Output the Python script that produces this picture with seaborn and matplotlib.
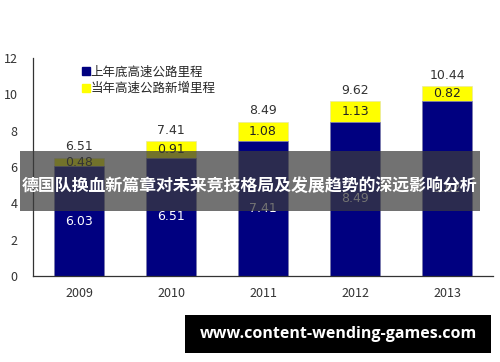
import matplotlib
matplotlib.use("Agg")
import matplotlib.pyplot as plt
import seaborn as sns
import pandas as pd
from matplotlib.patches import Rectangle
from matplotlib.lines import Line2D

years = ["2009", "2010", "2011", "2012", "2013"]
base = [6.03, 6.51, 7.41, 8.49, 9.62]
added = [0.48, 0.91, 1.08, 1.13, 0.82]
totals = [6.51, 7.41, 8.49, 9.62, 10.44]
legend_labels = ["上年底高速公路里程", "当年高速公路新增里程"]
yticks = [0, 2, 4, 6, 8, 10, 12]
banner_text = "德国队换血新篇章对未来竞技格局及发展趋势的深远影响分析"
url_text = "www.content-wending-games.com"

sns.set_theme(style="white")
plt.rcParams['font.family'] = ['Noto Sans CJK SC', 'DejaVu Sans']

df = pd.DataFrame({"year": years, "base": base, "added": added, "total": totals})

fig = plt.figure(figsize=(5, 3.62), dpi=100)
ax = fig.add_axes([0.066, 0.2376, 0.92, 0.6024])

navy = "#000080"
yellow = "#FFFF00"
sns.barplot(data=df, x="year", y="total", color=yellow, width=0.54, ax=ax,
            saturation=1, edgecolor="#E8E8A0", linewidth=0.5)
sns.barplot(data=df, x="year", y="base", color=navy, width=0.54, ax=ax,
            saturation=1, edgecolor="#8080C0", linewidth=0.5)

ax.set_xlim(-0.5, 4.5)
ax.set_ylim(0, 12)
ax.set_yticks(yticks)
ax.set_xlabel("")
ax.set_ylabel("")
for s in ["top", "right"]:
    ax.spines[s].set_visible(False)
for s in ["left", "bottom"]:
    ax.spines[s].set_color("#333333")
    ax.spines[s].set_linewidth(0.9)
ax.tick_params(axis="y", labelsize=9, colors="#333333", length=3, direction="in", pad=11)
ax.tick_params(axis="x", labelsize=9, colors="#333333", length=0, pad=8)
ax.set_xticks([0.5, 1.5, 2.5, 3.5], minor=True)
ax.tick_params(axis="x", which="minor", length=3, direction="in", color="#333333")

for i in range(len(years)):
    ax.text(i, totals[i] + 0.25, f"{totals[i]:.2f}", ha="center", va="bottom",
            fontsize=9, color="#333333", family="DejaVu Sans")
    ax.text(i, base[i] + added[i] / 2, f"{added[i]:.2f}", ha="center", va="center",
            fontsize=9, color="#222222", family="DejaVu Sans")
    ax.text(i, base[i] / 2, f"{base[i]:.2f}", ha="center", va="center",
            fontsize=9, color="white", family="DejaVu Sans")

handles = [Line2D([], [], marker="s", color="none", markerfacecolor=navy, markeredgecolor=navy, markersize=6),
           Line2D([], [], marker="s", color="none", markerfacecolor=yellow, markeredgecolor=yellow, markersize=6)]
ax.legend(handles, legend_labels, loc="upper left", bbox_to_anchor=(0.09, 1.0), frameon=False,
          fontsize=9, handlelength=0.6, handletextpad=0.1, labelspacing=0.3, borderaxespad=0.2)

# banner overlay
fig.patches.append(Rectangle((20 / 500, 1 - 211 / 362), 460 / 500, 60 / 362,
                             transform=fig.transFigure, facecolor="#3c3c3c", alpha=0.72,
                             edgecolor="none", zorder=10))
fig.text(0.5, 1 - 186 / 362, banner_text, ha="center", va="center", color="white",
         fontsize=12.2, fontweight="bold", zorder=11)

# url box
fig.patches.append(Rectangle((185 / 500, 1 - 353 / 362), 306 / 500, 38 / 362,
                             transform=fig.transFigure, facecolor="black",
                             edgecolor="none", zorder=10))
fig.text(338 / 500, 1 - 334 / 362, url_text, ha="center", va="center", color="white",
         fontsize=11.5, fontweight="bold", family="Open Sans", zorder=11)

fig.savefig("out.png", dpi=100)
